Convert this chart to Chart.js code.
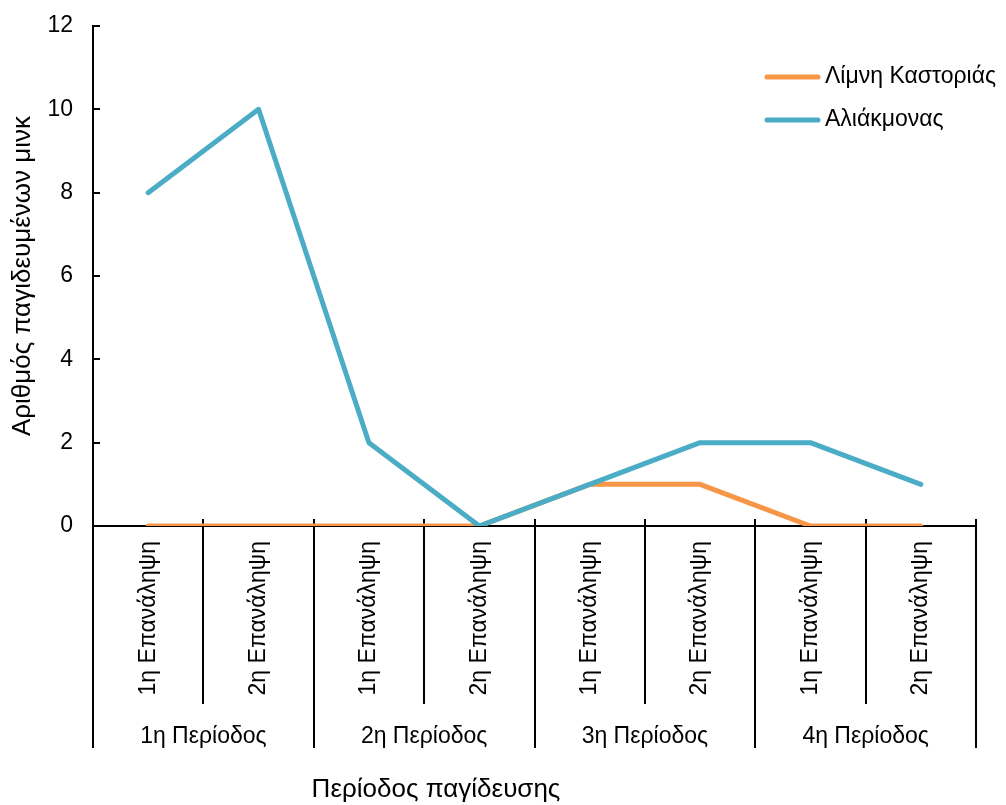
<!DOCTYPE html>
<html lang="el">
<head>
<meta charset="utf-8">
<title>Αριθμός παγιδευμένων μινκ</title>
<script src="https://cdn.jsdelivr.net/npm/chart.js@4/dist/chart.umd.min.js"></script>
<style>
  html, body { margin: 0; padding: 0; background: #ffffff; }
  #wrap { width: 1006px; height: 805px; }
</style>
</head>
<body>
<div id="wrap"><canvas id="chart" width="1006" height="805"></canvas></div>
<script>
// Repetitions (inner category level) and trapping periods (outer level)
const repetitions = [
  '1η Επανάληψη', '2η Επανάληψη',
  '1η Επανάληψη', '2η Επανάληψη',
  '1η Επανάληψη', '2η Επανάληψη',
  '1η Επανάληψη', '2η Επανάληψη'
];
const periods = ['1η Περίοδος', '2η Περίοδος', '3η Περίοδος', '4η Περίοδος'];

// Mink caught per repetition
const kastoria = [0, 0, 0, 0, 1, 1, 0, 0];
const aliakmonas = [8, 10, 2, 0, 1, 2, 2, 1];

const seriesNames = ['Λίμνη Καστοριάς', 'Αλιάκμονας'];
const yTitle = 'Αριθμός παγιδευμένων μινκ';
const xTitle = 'Περίοδος παγίδευσης';

const FONT = "'Liberation Sans', Arial, sans-serif";
const TICK_SIZE = 23;
const TITLE_SIZE = 26;
const ORANGE = '#F79646';
const BLUE = '#4BACC6';

// Draws the two-level category frame, inner y ticks, legend and x title
const frame = {
  id: 'frame',
  beforeDatasetsDraw(chart) {
    const { ctx, chartArea, scales } = chart;
    const x = scales.x, y = scales.y;
    const n = repetitions.length;
    const step = x.getPixelForValue(1) - x.getPixelForValue(0);
    const base = chartArea.bottom;
    ctx.save();
    ctx.strokeStyle = '#000';
    ctx.lineWidth = 2;
    // category boundaries
    for (let i = 0; i <= n; i++) {
      const px = Math.round(x.getPixelForValue(0) + (i - 0.5) * step);
      const isGroupEdge = i % 2 === 0;
      ctx.beginPath();
      ctx.moveTo(px, base - 7);
      ctx.lineTo(px, isGroupEdge ? 748 : 704);
      ctx.stroke();
    }
    // inner y tick marks
    y.ticks.forEach(t => {
      const py = Math.round(y.getPixelForValue(t.value));
      ctx.beginPath();
      ctx.moveTo(chartArea.left, py);
      ctx.lineTo(chartArea.left + 7, py);
      ctx.stroke();
    });
    ctx.restore();
  },
  afterDraw(chart) {
    const { ctx, scales } = chart;
    const x = scales.x;
    ctx.save();
    ctx.fillStyle = '#000';
    ctx.textAlign = 'center';
    ctx.textBaseline = 'middle';
    // period labels, centred under each pair of repetitions
    ctx.font = TICK_SIZE + 'px ' + FONT;
    periods.forEach((p, g) => {
      const cx = (x.getPixelForValue(2 * g) + x.getPixelForValue(2 * g + 1)) / 2;
      ctx.fillText(p, cx, 737);
    });
    // x-axis title
    ctx.font = TITLE_SIZE + 'px ' + FONT;
    ctx.fillText(xTitle, 436, 790);

    // legend
    ctx.font = TICK_SIZE + 'px ' + FONT;
    ctx.textAlign = 'left';
    const colors = [ORANGE, BLUE];
    const rows = [77, 120];
    seriesNames.forEach((name, i) => {
      ctx.strokeStyle = colors[i];
      ctx.lineWidth = 5;
      ctx.lineCap = 'round';
      ctx.beginPath();
      ctx.moveTo(767, rows[i]);
      ctx.lineTo(818, rows[i]);
      ctx.stroke();
      ctx.fillText(name, 825, rows[i]);
    });
    ctx.restore();
  }
};

new Chart(document.getElementById('chart'), {
  type: 'line',
  data: {
    labels: repetitions,
    datasets: [
      {
        label: seriesNames[0],
        data: kastoria,
        borderColor: ORANGE,
        backgroundColor: ORANGE,
        borderWidth: 5,
        order: 1
      },
      {
        label: seriesNames[1],
        data: aliakmonas,
        borderColor: BLUE,
        backgroundColor: BLUE,
        borderWidth: 5,
        order: 0
      }
    ]
  },
  options: {
    responsive: false,
    animation: false,
    events: [],
    layout: { padding: { left: 0, top: 26, right: 30, bottom: 0 } },
    elements: {
      point: { radius: 0, hoverRadius: 0 },
      line: { tension: 0, borderCapStyle: 'round', borderJoinStyle: 'round', fill: false }
    },
    plugins: {
      legend: { display: false },
      tooltip: { enabled: false },
      title: { display: false }
    },
    scales: {
      x: {
        type: 'category',
        offset: true,
        afterFit(scale) { scale.height = 279; },
        border: { display: true, color: '#000', width: 2 },
        grid: { display: true, drawOnChartArea: false, drawTicks: false },
        ticks: {
          autoSkip: false,
          minRotation: 90,
          maxRotation: 90,
          padding: 15,
          color: '#000',
          font: { family: FONT, size: TICK_SIZE }
        }
      },
      y: {
        min: 0,
        max: 12,
        afterFit(scale) {
          scale.width = 93;
          scale.paddingTop = 0;
          scale.paddingBottom = 0;
        },
        border: { display: true, color: '#000', width: 2 },
        grid: { display: true, drawOnChartArea: false, drawTicks: false },
        ticks: {
          stepSize: 2,
          padding: 20,
          color: '#000',
          font: { family: FONT, size: TICK_SIZE }
        },
        title: {
          display: true,
          text: yTitle,
          color: '#000',
          font: { family: FONT, size: TITLE_SIZE },
          padding: { top: 7, bottom: 0 }
        }
      }
    }
  },
  plugins: [frame]
});
</script>
</body>
</html>
